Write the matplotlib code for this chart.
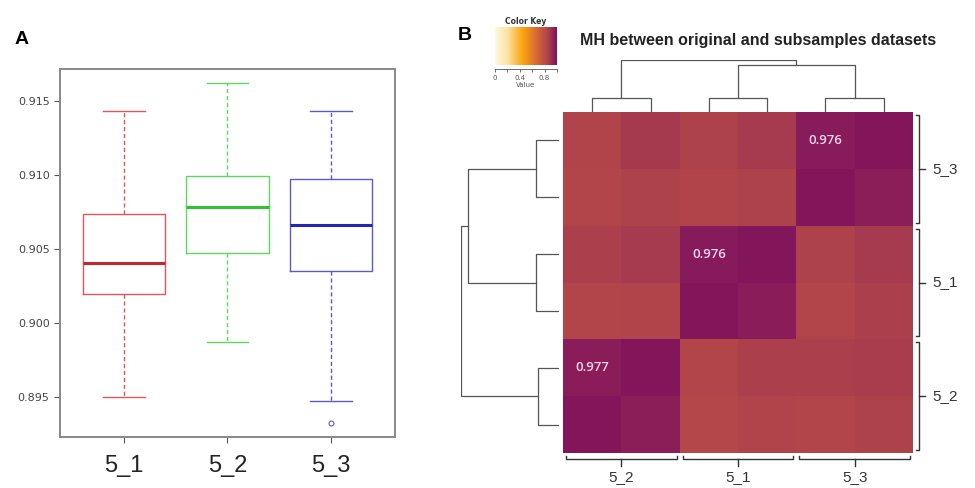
import matplotlib.pyplot as plt
import numpy as np
from matplotlib.colors import LinearSegmentedColormap

# ---- panel A data ----
groups = ['5_1', '5_2', '5_3']
box_q1 = [0.90194, 0.90473, 0.90351]
box_med = [0.90407, 0.90786, 0.90664]
box_q3 = [0.90734, 0.90995, 0.90971]
whisk_lo = [0.89498, 0.89874, 0.89471]
whisk_hi = [0.91432, 0.91620, 0.91432]
outliers = [[], [], [0.89322]]
box_colors = ['#e0565a', '#5fd85f', '#5a5ad0']
med_colors = ['#c4282e', '#33c033', '#2626b4']

# ---- panel B data ----
col_labels = ['5_2', '5_1', '5_3']
row_labels = ['5_3', '5_1', '5_2']
mh = np.array([
    [0.850, 0.880, 0.855, 0.875, 0.962, 0.980],
    [0.840, 0.855, 0.850, 0.855, 0.980, 0.955],
    [0.860, 0.875, 0.965, 0.980, 0.855, 0.875],
    [0.840, 0.850, 0.980, 0.960, 0.845, 0.860],
    [0.960, 0.980, 0.845, 0.860, 0.860, 0.870],
    [0.980, 0.955, 0.835, 0.850, 0.845, 0.855],
])
block_means = [(0, 4, '0.976'), (2, 2, '0.976'), (4, 0, '0.977')]
# merges: (node a, node b, height); new nodes numbered from 6
col_merges = [(0, 1, 0.27), (2, 3, 0.27), (4, 5, 0.27), (7, 8, 0.90), (6, 9, 1.0)]
row_merges = [(0, 1, 0.23), (2, 3, 0.23), (4, 5, 0.21), (6, 7, 0.93), (9, 8, 1.0)]

W, H = 975, 488


def px(l, t, r, b):
    return [l / W, 1 - b / H, (r - l) / W, (b - t) / H]


def draw_dendro(ax, merges, n, vertical):
    pos = {i: i + 0.5 for i in range(n)}
    hgt = {i: 0.0 for i in range(n)}
    for k, (a, b, h) in enumerate(merges):
        xs = [pos[a], pos[a], pos[b], pos[b]]
        ys = [hgt[a], h, h, hgt[b]]
        if vertical:
            ax.plot(xs, ys, color='#555555', lw=0.9)
        else:
            ax.plot(ys, xs, color='#555555', lw=0.9)
        pos[n + k] = (pos[a] + pos[b]) / 2
        hgt[n + k] = h


fig = plt.figure(figsize=(W / 100, H / 100), dpi=100)

# ---------------- A: boxplot ----------------
axA = fig.add_axes(px(60, 69, 395, 437))
for i in range(3):
    c = box_colors[i]
    st = dict(med=box_med[i], q1=box_q1[i], q3=box_q3[i],
              whislo=whisk_lo[i], whishi=whisk_hi[i], fliers=outliers[i])
    axA.bxp([st], positions=[i + 1], widths=0.8,
            boxprops=dict(color=c, lw=1.0),
            whiskerprops=dict(color=c, lw=1.0, ls=(0, (3, 2))),
            capprops=dict(color=c, lw=1.0),
            medianprops=dict(color=med_colors[i], lw=2.2),
            flierprops=dict(marker='o', markersize=3.5, markerfacecolor='none',
                            markeredgecolor=c, markeredgewidth=0.8))
axA.set_xlim(0.38, 3.62)
axA.set_ylim(0.8923, 0.91716)
axA.set_yticks([0.895, 0.900, 0.905, 0.910, 0.915])
axA.set_yticklabels(['0.895', '0.900', '0.905', '0.910', '0.915'])
axA.set_xticks([1, 2, 3])
axA.set_xticklabels(groups, family='Liberation Sans')
axA.tick_params(axis='y', labelsize=8, labelcolor='#444444', color='#555555',
                length=4, width=0.8)
axA.tick_params(axis='x', labelsize=17, labelcolor='#222222', color='#555555',
                length=4, width=0.8, pad=9)
for s in axA.spines.values():
    s.set_color('#888888')
    s.set_linewidth(1.4)
fig.text(15 / W, 1 - 40 / H, 'A', fontsize=14, fontweight='bold', va='center',
         family='Liberation Sans')

# ---------------- B: heatmap ----------------
cmap = LinearSegmentedColormap.from_list('mhkey', [
    (0.0, '#fff7de'), (0.2, '#fde3a2'), (0.45, '#fca50c'),
    (0.7, '#d2603c'), (0.85, '#b0444a'), (1.0, '#7c0f5e')])

axH = fig.add_axes(px(563, 112, 913, 453))
axH.pcolormesh(np.arange(7), np.arange(7), mh, cmap=cmap, vmin=0, vmax=1)
axH.set_xlim(0, 6)
axH.set_ylim(6, 0)
axH.axis('off')
for r, c, t in block_means:
    axH.text(c + 0.5, r + 0.5, t, color='#f3d6ec', fontsize=9.5, ha='center',
             va='center', family='Open Sans', fontweight='semibold')

# group brackets and labels
for g in range(3):
    a, b = 2 * g + 0.05, 2 * g + 1.95
    axH.plot([a, a, b, b], [6.06, 6.1, 6.1, 6.06], color='#333333', lw=1.0,
             clip_on=False)
    axH.plot([2 * g + 1, 2 * g + 1], [6.1, 6.22], color='#333333', lw=1.0,
             clip_on=False)
    axH.text(2 * g + 1, 6.3, col_labels[g], ha='center', va='top', fontsize=11,
             color='#333333', family='Liberation Sans')
    axH.plot([6.06, 6.1, 6.1, 6.06], [a, a, b, b], color='#333333', lw=1.0,
             clip_on=False)
    axH.plot([6.1, 6.2], [2 * g + 1, 2 * g + 1], color='#333333', lw=1.0,
             clip_on=False)
    axH.text(6.33, 2 * g + 1, row_labels[g], ha='left', va='center', fontsize=11,
             color='#333333', family='Liberation Sans')

# column dendrogram
axC = fig.add_axes(px(563, 60, 913, 112))
draw_dendro(axC, col_merges, 6, True)
axC.set_xlim(0, 6)
axC.set_ylim(0, 1.0)
axC.axis('off')

# row dendrogram
axR = fig.add_axes(px(461, 112, 559, 453))
draw_dendro(axR, row_merges, 6, False)
axR.set_ylim(6, 0)
axR.set_xlim(1.0, 0)
axR.axis('off')

# color key
axK = fig.add_axes(px(495, 27, 557, 65))
grad = np.linspace(0, 1, 256).reshape(1, -1)
axK.imshow(grad, aspect='auto', cmap=cmap, extent=[0, 1, 0, 1])
axK.set_xlim(0, 1)
axK.set_yticks([])
for s in ['top', 'left', 'right']:
    axK.spines[s].set_visible(False)
axK.spines['bottom'].set_position(('outward', 3))
axK.spines['bottom'].set_color('#555555')
axK.spines['bottom'].set_linewidth(0.6)
axK.set_xticks([0, 0.2, 0.4, 0.6, 0.8, 1.0])
axK.set_xticklabels(['0', '', '0.4', '', '0.8', ''])
axK.tick_params(axis='x', labelsize=5, length=2, width=0.6, pad=2,
                color='#555555', labelcolor='#555555')
axK.set_xlabel('Value', fontsize=5, labelpad=1, color='#555555')
axK.set_title('Color Key', fontsize=5.5, fontweight='bold', pad=2, color='#333333')

fig.text(458 / W, 1 - 35 / H, 'B', fontsize=14, fontweight='bold', va='center',
         family='Liberation Sans')
fig.text(580 / W, 1 - 40 / H, 'MH between original and subsamples datasets',
         fontsize=11.5, fontweight='bold', va='center', color='#222222',
         family='Liberation Sans')

fig.savefig('out.png', dpi=100)
